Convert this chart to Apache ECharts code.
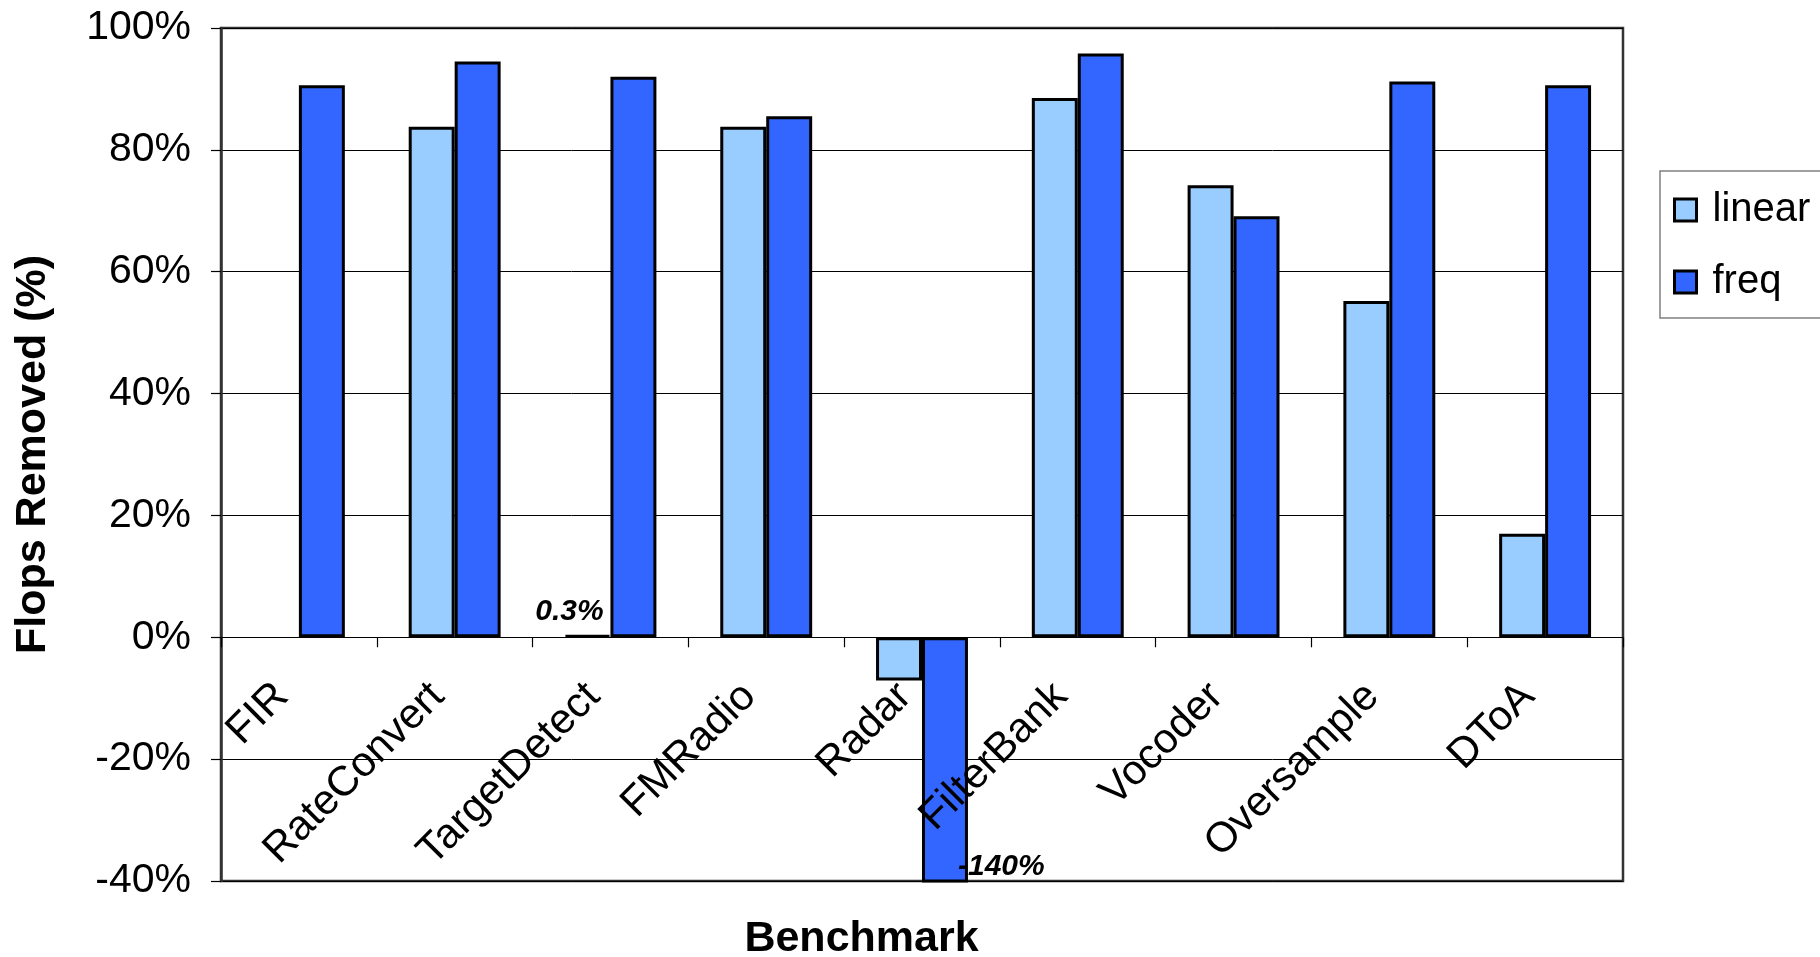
<!DOCTYPE html>
<html>
<head>
<meta charset="utf-8">
<script src="https://cdn.jsdelivr.net/npm/echarts@6/dist/echarts.min.js"></script>
<style>
  html, body { margin: 0; padding: 0; background: #ffffff; }
  #chart { width: 1820px; height: 957px; }
</style>
</head>
<body>
<div id="chart"></div>
<script>
// Benchmarks and the share of floating-point operations removed (%)
const benchmarks = ['FIR', 'RateConvert', 'TargetDetect', 'FMRadio', 'Radar',
                    'FilterBank', 'Vocoder', 'Oversample', 'DToA'];
const linearValues = [null, 83.8, 0.3, 83.8, -7.1, 88.5, 74.2, 55.2, 17.0];
const freqValues   = [90.6, 94.5, 92.0, 85.5, -140, 95.8, 69.1, 91.2, 90.6];
const seriesNames  = ['linear', 'freq'];
const yTicks = { min: -40, max: 100, step: 20 };

const FONT = '"Liberation Sans", Arial, Helvetica, sans-serif';
const valueLabelStyle = {
  show: true,
  fontFamily: FONT,
  fontSize: 30,
  fontWeight: 'bold',
  fontStyle: 'italic',
  color: '#000',
  formatter: p => p.value + '%'
};

// Labelled points: the tiny linear bar of TargetDetect and the clipped freq bar of Radar
const linearData = linearValues.map(v => {
  if (v === null) return '-';
  if (v === 0.3) return { value: v, label: Object.assign({}, valueLabelStyle, { position: 'top', distance: 8, offset: [-18, 0] }) };
  return v;
});
const freqData = freqValues.map(v => {
  if (v === -140) return {
    value: v,
    label: Object.assign({}, valueLabelStyle, {
      position: ['100%', '93.5%'], align: 'left', verticalAlign: 'middle', offset: [-10, 0]
    })
  };
  return v;
});

const barBorder = { borderColor: '#000', borderWidth: 3 };

const chart = echarts.init(document.getElementById('chart'));
chart.setOption({
  backgroundColor: '#ffffff',
  animation: false,
  grid: {
    left: 221, right: 197, top: 28, bottom: 76,
    containLabel: false, outerBoundsMode: 'none',
    show: true, borderColor: '#333', borderWidth: 2.5, backgroundColor: 'transparent'
  },
  legend: {
    orient: 'vertical',
    left: 1660, top: 171,
    padding: [19, 60, 16, 13],
    itemGap: 32,
    itemWidth: 22, itemHeight: 22,
    borderColor: '#808080', borderWidth: 1.5,
    icon: 'rect',
    itemStyle: { borderColor: '#000', borderWidth: 3 },
    textStyle: { fontFamily: FONT, fontSize: 40, color: '#000', padding: [0, 0, 0, 11] },
    data: seriesNames
  },
  xAxis: {
    type: 'category',
    data: benchmarks,
    z: 10,
    name: 'Benchmark',
    nameLocation: 'middle',
    nameGap: 37,
    nameTextStyle: { fontFamily: FONT, fontSize: 43, fontWeight: 'bold', color: '#000', padding: [0, 121, 0, 0] },
    axisLine: { onZero: true, lineStyle: { color: '#000', width: 1.2 } },
    axisTick: { show: true, inside: false, length: 10, lineStyle: { color: '#000', width: 1.2 } },
    // category names sit just under the zero line, drawn over the bars
    axisLabel: {
      interval: 0, rotate: 45, margin: -208, padding: [0, 24, 0, 0],
      fontFamily: FONT, fontSize: 42, color: '#000'
    },
    splitLine: { show: false }
  },
  yAxis: {
    type: 'value',
    min: yTicks.min, max: yTicks.max, interval: yTicks.step,
    name: 'Flops Removed (%)',
    nameLocation: 'middle',
    nameGap: 166,
    nameTextStyle: { fontFamily: FONT, fontSize: 43, fontWeight: 'bold', color: '#000' },
    axisLine: { show: true, lineStyle: { color: '#333', width: 2.5 } },
    axisTick: { show: true, inside: false, length: 10, lineStyle: { color: '#000', width: 1.2 } },
    axisLabel: {
      margin: 30, fontFamily: FONT, fontSize: 41, color: '#000',
      formatter: '{value}%'
    },
    splitLine: { show: true, lineStyle: { color: '#000', width: 1 } }
  },
  series: [
    {
      name: seriesNames[0], type: 'bar', data: linearData,
      barGap: '0%', barCategoryGap: '41%', clip: true,
      itemStyle: Object.assign({ color: '#99CCFF' }, barBorder)
    },
    {
      name: seriesNames[1], type: 'bar', data: freqData,
      barGap: '0%', barCategoryGap: '41%', clip: true,
      itemStyle: Object.assign({ color: '#3366FF' }, barBorder)
    }
  ]
});
</script>
</body>
</html>
